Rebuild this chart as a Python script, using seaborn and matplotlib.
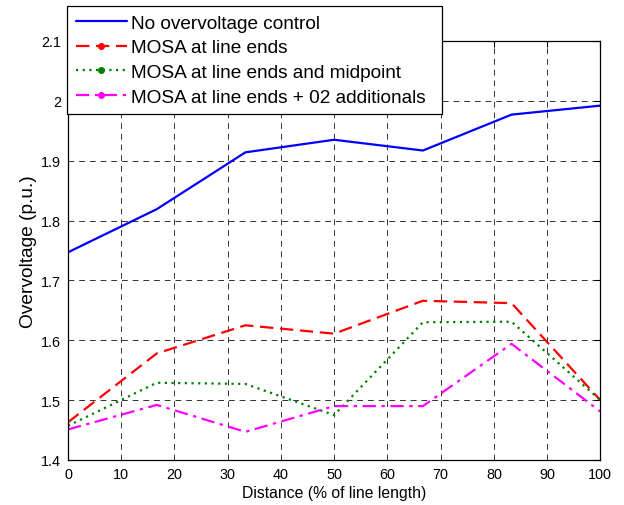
import numpy as np
import pandas as pd
import matplotlib
matplotlib.use("Agg")
import matplotlib.pyplot as plt
from matplotlib.lines import Line2D
import seaborn as sns

# Positions along the line (% of line length)
distance = [0, 16.67, 33.33, 50, 66.67, 83.33, 100]

# Peak overvoltage (p.u.) for each protection scheme
no_control = [1.747, 1.819, 1.914, 1.935, 1.917, 1.977, 1.992]
mosa_ends = [1.463, 1.578, 1.625, 1.611, 1.666, 1.662, 1.500]
mosa_ends_mid = [1.457, 1.529, 1.527, 1.475, 1.630, 1.631, 1.500]
mosa_ends_two = [1.451, 1.492, 1.447, 1.490, 1.490, 1.594, 1.481]

series_names = [
    "No overvoltage control",
    "MOSA at line ends",
    "MOSA at line ends and midpoint",
    "MOSA at line ends + 02 additionals",
]
series_values = [no_control, mosa_ends, mosa_ends_mid, mosa_ends_two]

x_ticks = list(range(0, 101, 10))
y_ticks = [1.4, 1.5, 1.6, 1.7, 1.8, 1.9, 2.0, 2.1]
y_tick_labels = ["1.4", "1.5", "1.6", "1.7", "1.8", "1.9", "2", "2.1"]

colors = ["#0000ff", "#ff0000", "#008000", "#ff00ff"]
dash_styles = [(None, None), (6, 3), (1, 2), (6, 2.5, 1.5, 2.5)]

df = pd.DataFrame(
    [(d, v, name) for name, vals in zip(series_names, series_values) for d, v in zip(distance, vals)],
    columns=["distance", "overvoltage", "scheme"],
)

sns.set_style("white")
plt.rcParams["font.family"] = ["Liberation Sans", "DejaVu Sans"]
plt.rcParams.update({"text.color": "black", "axes.labelcolor": "black",
                     "xtick.color": "black", "ytick.color": "black"})

fig = plt.figure(figsize=(6.24, 5.06), dpi=100)
ax = fig.add_axes([0.109, 0.089, 0.853, 0.828])

sns.lineplot(
    data=df, x="distance", y="overvoltage", hue="scheme", style="scheme",
    hue_order=series_names, style_order=series_names,
    palette=colors, dashes=dict(zip(series_names, [""] + dash_styles[1:])),
    linewidth=1.6, legend=False, ax=ax,
)

ax.set_xlim(0, 100)
ax.set_ylim(1.4, 2.1)
ax.set_xticks(x_ticks)
ax.set_yticks(y_ticks)
ax.set_yticklabels(y_tick_labels)
ax.tick_params(direction="in", length=4, width=0.8, color="black",
               labelcolor="black", top=True, right=True, labelsize=10.4, pad=5)
ax.grid(True, color="black", linestyle=(0, (6, 5)), linewidth=0.7, alpha=0.8)
for s in ax.spines.values():
    s.set_color("black")
    s.set_linewidth(0.9)

ax.set_xlabel("Distance (% of line length)", fontsize=11.3, labelpad=3, color="black")
ax.set_ylabel("Overvoltage (p.u.)", fontsize=13.8, labelpad=3, color="black")

handles = []
for i, name in enumerate(series_names):
    ls = "-" if i == 0 else (0, dash_styles[i])
    handles.append(Line2D([], [], color=colors[i], linestyle=ls, linewidth=1.6,
                          marker=None if i == 0 else "o", markersize=4,
                          markevery=[1] if i else None))

# Legend box spans from the left spine to about x=442 px, partly above the axes
W, H = 624.0, 506.0
legend_box = (67 / W, (H - 114) / H, (442 - 67) / W, (114 - 7) / H)
legend = fig.legend(handles, series_names, loc="upper left", mode="expand",
                    bbox_to_anchor=legend_box, fontsize=13.7,
                    frameon=True, fancybox=False, framealpha=1,
                    edgecolor="black", borderpad=0.45, labelspacing=0.38,
                    handlelength=2.7, handletextpad=0.2, borderaxespad=0)
legend.get_frame().set_linewidth(0.9)
for t in legend.get_texts():
    t.set_color("black")

fig.savefig("out.png", dpi=100, facecolor="white")
